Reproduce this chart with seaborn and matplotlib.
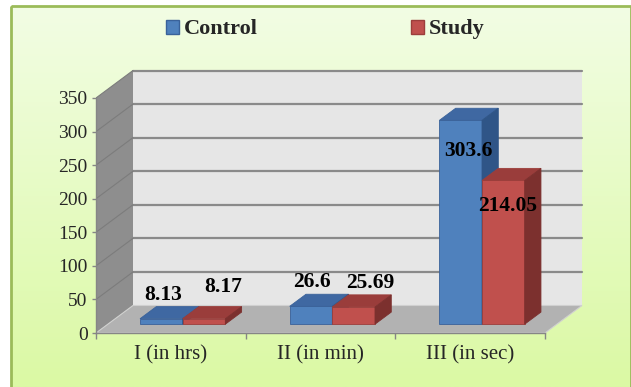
import numpy as np
import pandas as pd
import matplotlib
matplotlib.use("Agg")
import matplotlib.pyplot as plt
import seaborn as sns
from matplotlib.patches import Polygon, Rectangle, Patch

# data
categories = ["I (in hrs)", "II (in min)", "III (in sec)"]
control = [8.13, 26.6, 303.6]
study = [8.17, 25.69, 214.05]
groups = ["Control", "Study"]
yticks = [0, 50, 100, 150, 200, 250, 300, 350]

df = pd.DataFrame({
    "cat": categories * 2,
    "value": control + study,
    "group": ["Control"] * 3 + ["Study"] * 3,
})

sns.set_style("white")
plt.rcParams['font.family'] = ['Liberation Serif', 'DejaVu Serif']

W, H = 631, 387
fig = plt.figure(figsize=(W / 100, H / 100), dpi=100)
fig.patch.set_facecolor("white")

# background panel with vertical gradient + green border
bg = fig.add_axes([0, 0, 1, 1], zorder=-10)
bg.set_xlim(0, W)
bg.set_ylim(H, 0)
bg.axis("off")
top_c = np.array(matplotlib.colors.to_rgb("#f2fde4"))
bot_c = np.array(matplotlib.colors.to_rgb("#dbf9a4"))
t = np.linspace(0, 1, 200)[:, None]
grad = (top_c[None, :] * (1 - t) + bot_c[None, :] * t)[:, None, :]
bg.imshow(grad, extent=[11, W, H, 6], aspect="auto")
bg.add_patch(Rectangle((11, 6), W - 11, H, fill=False, ec="#9bbb59", lw=2))

# main axes: front floor edge from x=96..545 px, y=0 at 333 px, 350 at 98 px
px_cat = 149.67
px_val = 235 / 350
ax = fig.add_axes([96 / W, (H - 333) / H, 494 / W, 268 / H])

sns.barplot(data=df, x="cat", y="value", hue="group", order=categories,
            hue_order=groups, palette=["#4f81bd", "#c0504d"], width=0.57,
            saturation=1, legend=False, ax=ax, edgecolor="none", linewidth=0)

ax.set_xlim(-0.5, -0.5 + 494 / px_cat)
ax.set_ylim(0, 268 / px_val)
ax.patch.set_alpha(0)

# oblique depth in data units
DX = 37 / px_cat
DY = 27.5 / px_val
F0 = 0.32   # front face depth of bars
FD = 0.44   # bar depth

# walls and floor
ax.add_patch(Polygon([(-0.5, 0), (-0.5 + DX, DY), (-0.5 + DX, 350 + DY), (-0.5, 350)],
                     closed=True, fc="#8e8e8e", ec="none", zorder=0.5))
ax.add_patch(Polygon([(-0.5 + DX, DY), (2.5 + DX, DY), (2.5 + DX, 350 + DY), (-0.5 + DX, 350 + DY)],
                     closed=True, fc="#e6e6e6", ec="none", zorder=0.5))
ax.add_patch(Polygon([(-0.5, 0), (2.5, 0), (2.5 + DX, DY), (-0.5 + DX, DY)],
                     closed=True, fc="#b2b2b2", ec="#d0d0d0", lw=0.8, zorder=0.8))
for v in yticks[1:]:
    ax.plot([-0.5 + DX, 2.5 + DX], [v + DY, v + DY], color="#8a8a8a", lw=1.6, zorder=0.7)
    ax.plot([-0.5, -0.5 + DX], [v, v + DY], color="#7c7c7c", lw=0.8, zorder=0.7)

# 3d bars
face_cols = [("#3f68a2", "#2f5587", "#3a629a"), ("#9a3d3b", "#7c302e", "#9c3e3b")]
label_off = [[(1.4, 24), (1, 24), (7.5, -31)], [(19, 32), (17, 24), (4.5, -26)]]
for gi, cont in enumerate(ax.containers):
    topc, sidec, edgec = face_cols[gi]
    z = 3 + gi
    for bi, bar in enumerate(cont.patches):
        bar.set_x(bar.get_x() + F0 * DX)
        bar.set_y(bar.get_y() + F0 * DY)
        bar.set_edgecolor(edgec)
        bar.set_linewidth(0.6)
        bar.set_zorder(z)
        x0 = bar.get_x()
        x1 = x0 + bar.get_width()
        y0 = bar.get_y()
        y1 = y0 + bar.get_height()
        ddx, ddy = FD * DX, FD * DY
        ax.add_patch(Polygon([(x0, y1), (x1, y1), (x1 + ddx, y1 + ddy), (x0 + ddx, y1 + ddy)],
                             closed=True, fc=topc, ec=edgec, lw=0.6, zorder=z))
        ax.add_patch(Polygon([(x1, y0), (x1, y1), (x1 + ddx, y1 + ddy), (x1 + ddx, y0 + ddy)],
                             closed=True, fc=sidec, ec=sidec, lw=0.6, zorder=z))
        val = bar.get_height()
        dx, dy = label_off[gi][bi]
        ax.annotate(f"{val:g}", ((x0 + x1) / 2, y1), xytext=(dx * 0.72, dy * 0.72),
                    textcoords="offset points", ha="center", va="center",
                    fontsize=15.5, fontweight="bold", color="black", zorder=10)

# axes styling
for s in ["top", "right"]:
    ax.spines[s].set_visible(False)
ax.spines["left"].set_bounds(0, 350)
ax.spines["bottom"].set_bounds(-0.5, 2.5)
for s in ["left", "bottom"]:
    ax.spines[s].set_color("#868686")
    ax.spines[s].set_linewidth(1)
    ax.spines[s].set_zorder(2)
ax.set_yticks(yticks)
ax.set_yticklabels([str(v) for v in yticks], fontsize=14)
ax.tick_params(axis="y", length=3, width=1, color="#868686", pad=3, left=True)
ax.set_xticks(range(len(categories)))
ax.set_xticklabels(categories, fontsize=15)
ax.set_xticks([-0.5, 0.5, 1.5, 2.5], minor=True)
ax.tick_params(axis="x", which="major", length=0, pad=9)
ax.tick_params(axis="x", which="minor", length=4.5, width=1, color="#868686", bottom=True)
ax.set_xlabel("")
ax.set_ylabel("")
ax.grid(False)

handles = [Patch(fc="#4f81bd", ec="#3a629a", label="Control"),
           Patch(fc="#c0504d", ec="#9c3e3b", label="Study")]
fig.legend(handles=handles, loc="center", bbox_to_anchor=(0.515, 0.924), ncol=2,
           frameon=False, handlelength=0.6, handleheight=0.6, handletextpad=0.2,
           columnspacing=6.9, prop={"size": 16, "weight": "bold"})

fig.savefig("out.png", dpi=100)
